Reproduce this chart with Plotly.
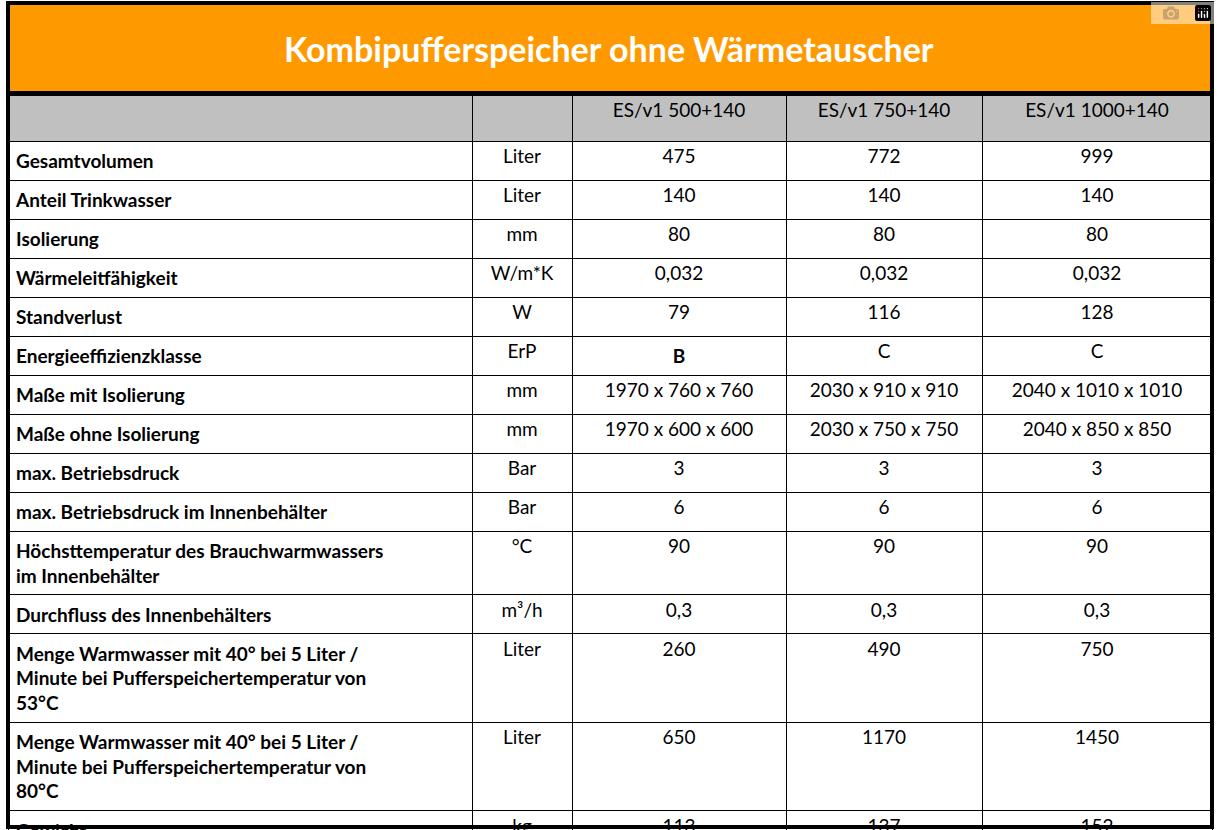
import plotly.graph_objects as go

title = "Kombipufferspeicher ohne Wärmetauscher"
header = ["", "", "ES/v1 500+140", "ES/v1 750+140", "ES/v1 1000+140"]
params = ["Gesamtvolumen", "Anteil Trinkwasser", "Isolierung", "Wärmeleitfähigkeit", "Standverlust",
          "Energieeffizienzklasse", "Maße mit Isolierung", "Maße ohne Isolierung", "max. Betriebsdruck",
          "max. Betriebsdruck im Innenbehälter",
          "Höchsttemperatur des Brauchwarmwassers<br>im Innenbehälter",
          "Durchfluss des Innenbehälters",
          "Menge Warmwasser mit 40° bei 5 Liter /<br>Minute bei Pufferspeichertemperatur von<br>53°C",
          "Menge Warmwasser mit 40° bei 5 Liter /<br>Minute bei Pufferspeichertemperatur von<br>80°C",
          "Gewicht"]
units = ["Liter", "Liter", "mm", "W/m*K", "W", "ErP", "mm", "mm", "Bar", "Bar", "°C", "m³/h", "Liter", "Liter", "kg"]
v500 = ["475", "140", "80", "0,032", "79", "<b>B</b>", "1970 x 760 x 760", "1970 x 600 x 600", "3", "6", "90", "0,3", "260", "650", "113"]
v750 = ["772", "140", "80", "0,032", "116", "C", "2030 x 910 x 910", "2030 x 750 x 750", "3", "6", "90", "0,3", "490", "1170", "137"]
v1000 = ["999", "140", "80", "0,032", "128", "C", "2040 x 1010 x 1010", "2040 x 850 x 850", "3", "6", "90", "0,3", "750", "1450", "152"]

W, H = 1217, 830
x0, x1 = 8, 1212
widths = [464, 100, 214, 196, 230]
fig = go.Figure(go.Table(
    columnwidth=widths,
    domain=dict(x=[x0 / W, x1 / W], y=[0, (H - 95) / H]),
    header=dict(values=header, fill_color="#c0c0c0", line=dict(color="black", width=1),
                align="center", height=46, font=dict(family="Lato", size=19, color="black")),
    cells=dict(values=[["<b>" + p + "</b>" for p in params], units, v500, v750, v1000],
               fill_color="white", line=dict(color="black", width=1),
               align=["left", "center", "center", "center", "center"], height=34,
               font=dict(family="Lato", size=19, color="black")),
))
fig.add_shape(type="rect", xref="paper", yref="paper", x0=x0 / W, x1=x1 / W, y0=(H - 93) / H, y1=(H - 3) / H,
              fillcolor="#ff9900", line=dict(color="black", width=4))
fig.add_shape(type="rect", xref="paper", yref="paper", x0=x0 / W, x1=x1 / W, y0=3 / H, y1=(H - 3) / H,
              line=dict(color="black", width=4))
fig.add_annotation(text="<b>" + title + "</b>", x=0.5, y=(H - 48) / H, xref="paper", yref="paper",
                   yanchor="middle", showarrow=False, font=dict(family="Lato", size=34, color="white"))
fig.update_layout(width=W, height=H, margin=dict(l=0, r=0, t=0, b=0), paper_bgcolor="white")
fig.write_html("out.html")

with open("out.html", encoding="utf-8") as f:
    html = f.read()
html = html.replace("<head>", "<head><style>html,body{margin:0;padding:0;overflow:hidden}</style>", 1)
with open("out.html", "w", encoding="utf-8") as f:
    f.write(html)
